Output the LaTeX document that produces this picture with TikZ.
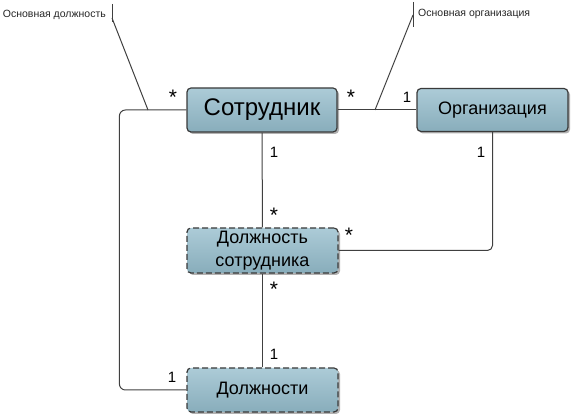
\documentclass[tikz,border=0pt]{standalone}
\usepackage{fontspec}
\setmainfont{Liberation Sans}
\usetikzlibrary{shadows}
\definecolor{boxtop}{HTML}{ACCBD7}
\definecolor{boxbot}{HTML}{88ADBB}
\definecolor{edge}{HTML}{3A3A3A}
\definecolor{linec}{HTML}{404040}
\tikzset{
  entity/.style={draw=edge, line width=1.2pt, rounded corners=4pt,
    top color=boxtop, bottom color=boxbot, align=center, inner sep=0pt,
    drop shadow={shadow xshift=2pt, shadow yshift=-2pt, fill=black, opacity=0.3}},
  dashedentity/.style={entity, dash pattern=on 6pt off 3pt},
  conn/.style={draw=linec, line width=1pt},
  mult/.style={font=\fontsize{15}{15}\selectfont, inner sep=0pt},
  star/.style={font=\fontsize{21}{21}\selectfont, inner sep=0pt},
  role/.style={font=\fontsize{10.5}{11}\selectfont, text=black!85, inner sep=0pt}
}
\begin{document}
\begin{tikzpicture}[x=1pt,y=1pt]
\useasboundingbox (0,0) rectangle (574,-419);
\node[entity, minimum width=150pt, minimum height=44pt, font=\fontsize{24}{26}\selectfont] (sotr) at (262,-110) {Сотрудник};
\node[entity, minimum width=151pt, minimum height=43pt, font=\fontsize{18}{20}\selectfont] (org) at (492.5,-110) {Организация};
\node[dashedentity, minimum width=151pt, minimum height=45pt, font=\fontsize{18}{23}\selectfont] (dsotr) at (262.5,-250.5) {Должность\\сотрудника};
\node[dashedentity, minimum width=151pt, minimum height=44pt, font=\fontsize{18}{20}\selectfont] (dolzh) at (262.5,-390) {Должности};

% connectors
\draw[conn, rounded corners=6pt] (sotr.west) -- ++(-67,0) |- (dolzh.west);
\draw[conn] (sotr.east) -- (org.west);
\draw[conn] (sotr.south) -- (dsotr.north);
\draw[conn] (dsotr.south) -- (dolzh.north);
\draw[conn, rounded corners=5pt] (org.south) |- (dsotr.east);

% role lines
\coordinate (r1) at (148,-110);
\coordinate (t1) at (112,-18);
\coordinate (t1a) at (112,-4);
\coordinate (t1b) at (112,-22);
\draw[conn] (r1) -- (t1);
\draw[conn] (t1a) -- (t1b);
\node[role, anchor=east] (lab1) at (106,-15) {Основная должность};

\coordinate (r2) at (375,-110);
\coordinate (t2) at (413,-15);
\coordinate (t2a) at (413,-2);
\coordinate (t2b) at (413,-27);
\draw[conn] (r2) -- (t2);
\draw[conn] (t2a) -- (t2b);
\node[role, anchor=west] (lab2) at (418,-14) {Основная организация};

% multiplicities
\node[star] (m1) at (173,-97) {*};
\node[star] (m2) at (351,-97) {*};
\node[mult] (m3) at (407,-97) {1};
\node[mult] (m4) at (274,-152) {1};
\node[mult] (m5) at (481,-152) {1};
\node[star] (m6) at (274,-215) {*};
\node[star] (m7) at (349,-235) {*};
\node[star] (m8) at (274,-289) {*};
\node[mult] (m9) at (274,-354) {1};
\node[mult] (m10) at (172,-377) {1};
\end{tikzpicture}
\end{document}
